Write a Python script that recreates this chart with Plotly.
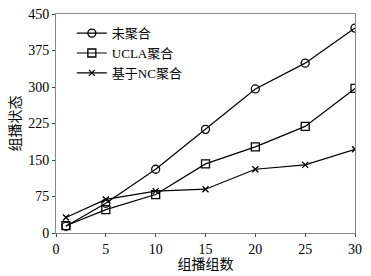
import plotly.graph_objects as go

x_vals = [1, 5, 10, 15, 20, 25, 30]
unagg = [14, 61, 131, 213, 296, 349, 421]
ucla = [15, 48, 79, 142, 177, 219, 297]
nc = [32, 69, 86, 90, 131, 140, 172]
series_names = ["未聚合", "UCLA聚合", "基于NC聚合"]
x_ticks = [0, 5, 10, 15, 20, 25, 30]
y_ticks = [0, 75, 150, 225, 300, 375, 450]

font_fam = "Liberation Serif, Noto Sans CJK SC, serif"

fig = go.Figure()
symbols = ["circle-open", "square-open", "x-thin-open"]
for name, ys, sym in zip(series_names, [unagg, ucla, nc], symbols):
    fig.add_trace(go.Scatter(
        x=x_vals, y=ys, name=name, mode="lines+markers",
        line=dict(color="black", width=1.2),
        marker=dict(symbol=sym, size=8 if sym != "x-thin-open" else 6,
                    color="black", line=dict(color="black", width=1.3)),
    ))

fig.update_layout(
    width=371, height=276,
    margin=dict(l=56, r=16, t=14, b=43, autoexpand=False),
    paper_bgcolor="white", plot_bgcolor="white",
    font=dict(family=font_fam, size=14, color="black"),
    showlegend=True,
    legend=dict(x=0.053, y=0.981, xanchor="left", yanchor="top",
                bgcolor="rgba(0,0,0,0)", borderwidth=0,
                font=dict(size=13), itemwidth=30, tracegroupgap=0),
)
fig.update_xaxes(
    range=[0, 30], tickvals=x_ticks, ticks="outside", ticklen=3,
    showline=True, linecolor="#888", linewidth=1, mirror=True,
    showgrid=False, zeroline=False, ticklabeloverflow="allow", automargin=False,
    title=dict(text="组播组数", standoff=0, font=dict(size=14)),
    tickfont=dict(size=14),
)
fig.update_yaxes(
    range=[0, 450], tickvals=y_ticks, ticks="outside", ticklen=3,
    showline=True, linecolor="#888", linewidth=1, mirror=True,
    showgrid=False, zeroline=False, automargin=False,
    title=dict(text="组播状态", standoff=4, font=dict(size=14)),
    tickfont=dict(size=14),
)

fig.write_html("out.html", config={"displayModeBar": False},
               post_script="document.body.style.margin='0';document.body.style.overflow='hidden';")
